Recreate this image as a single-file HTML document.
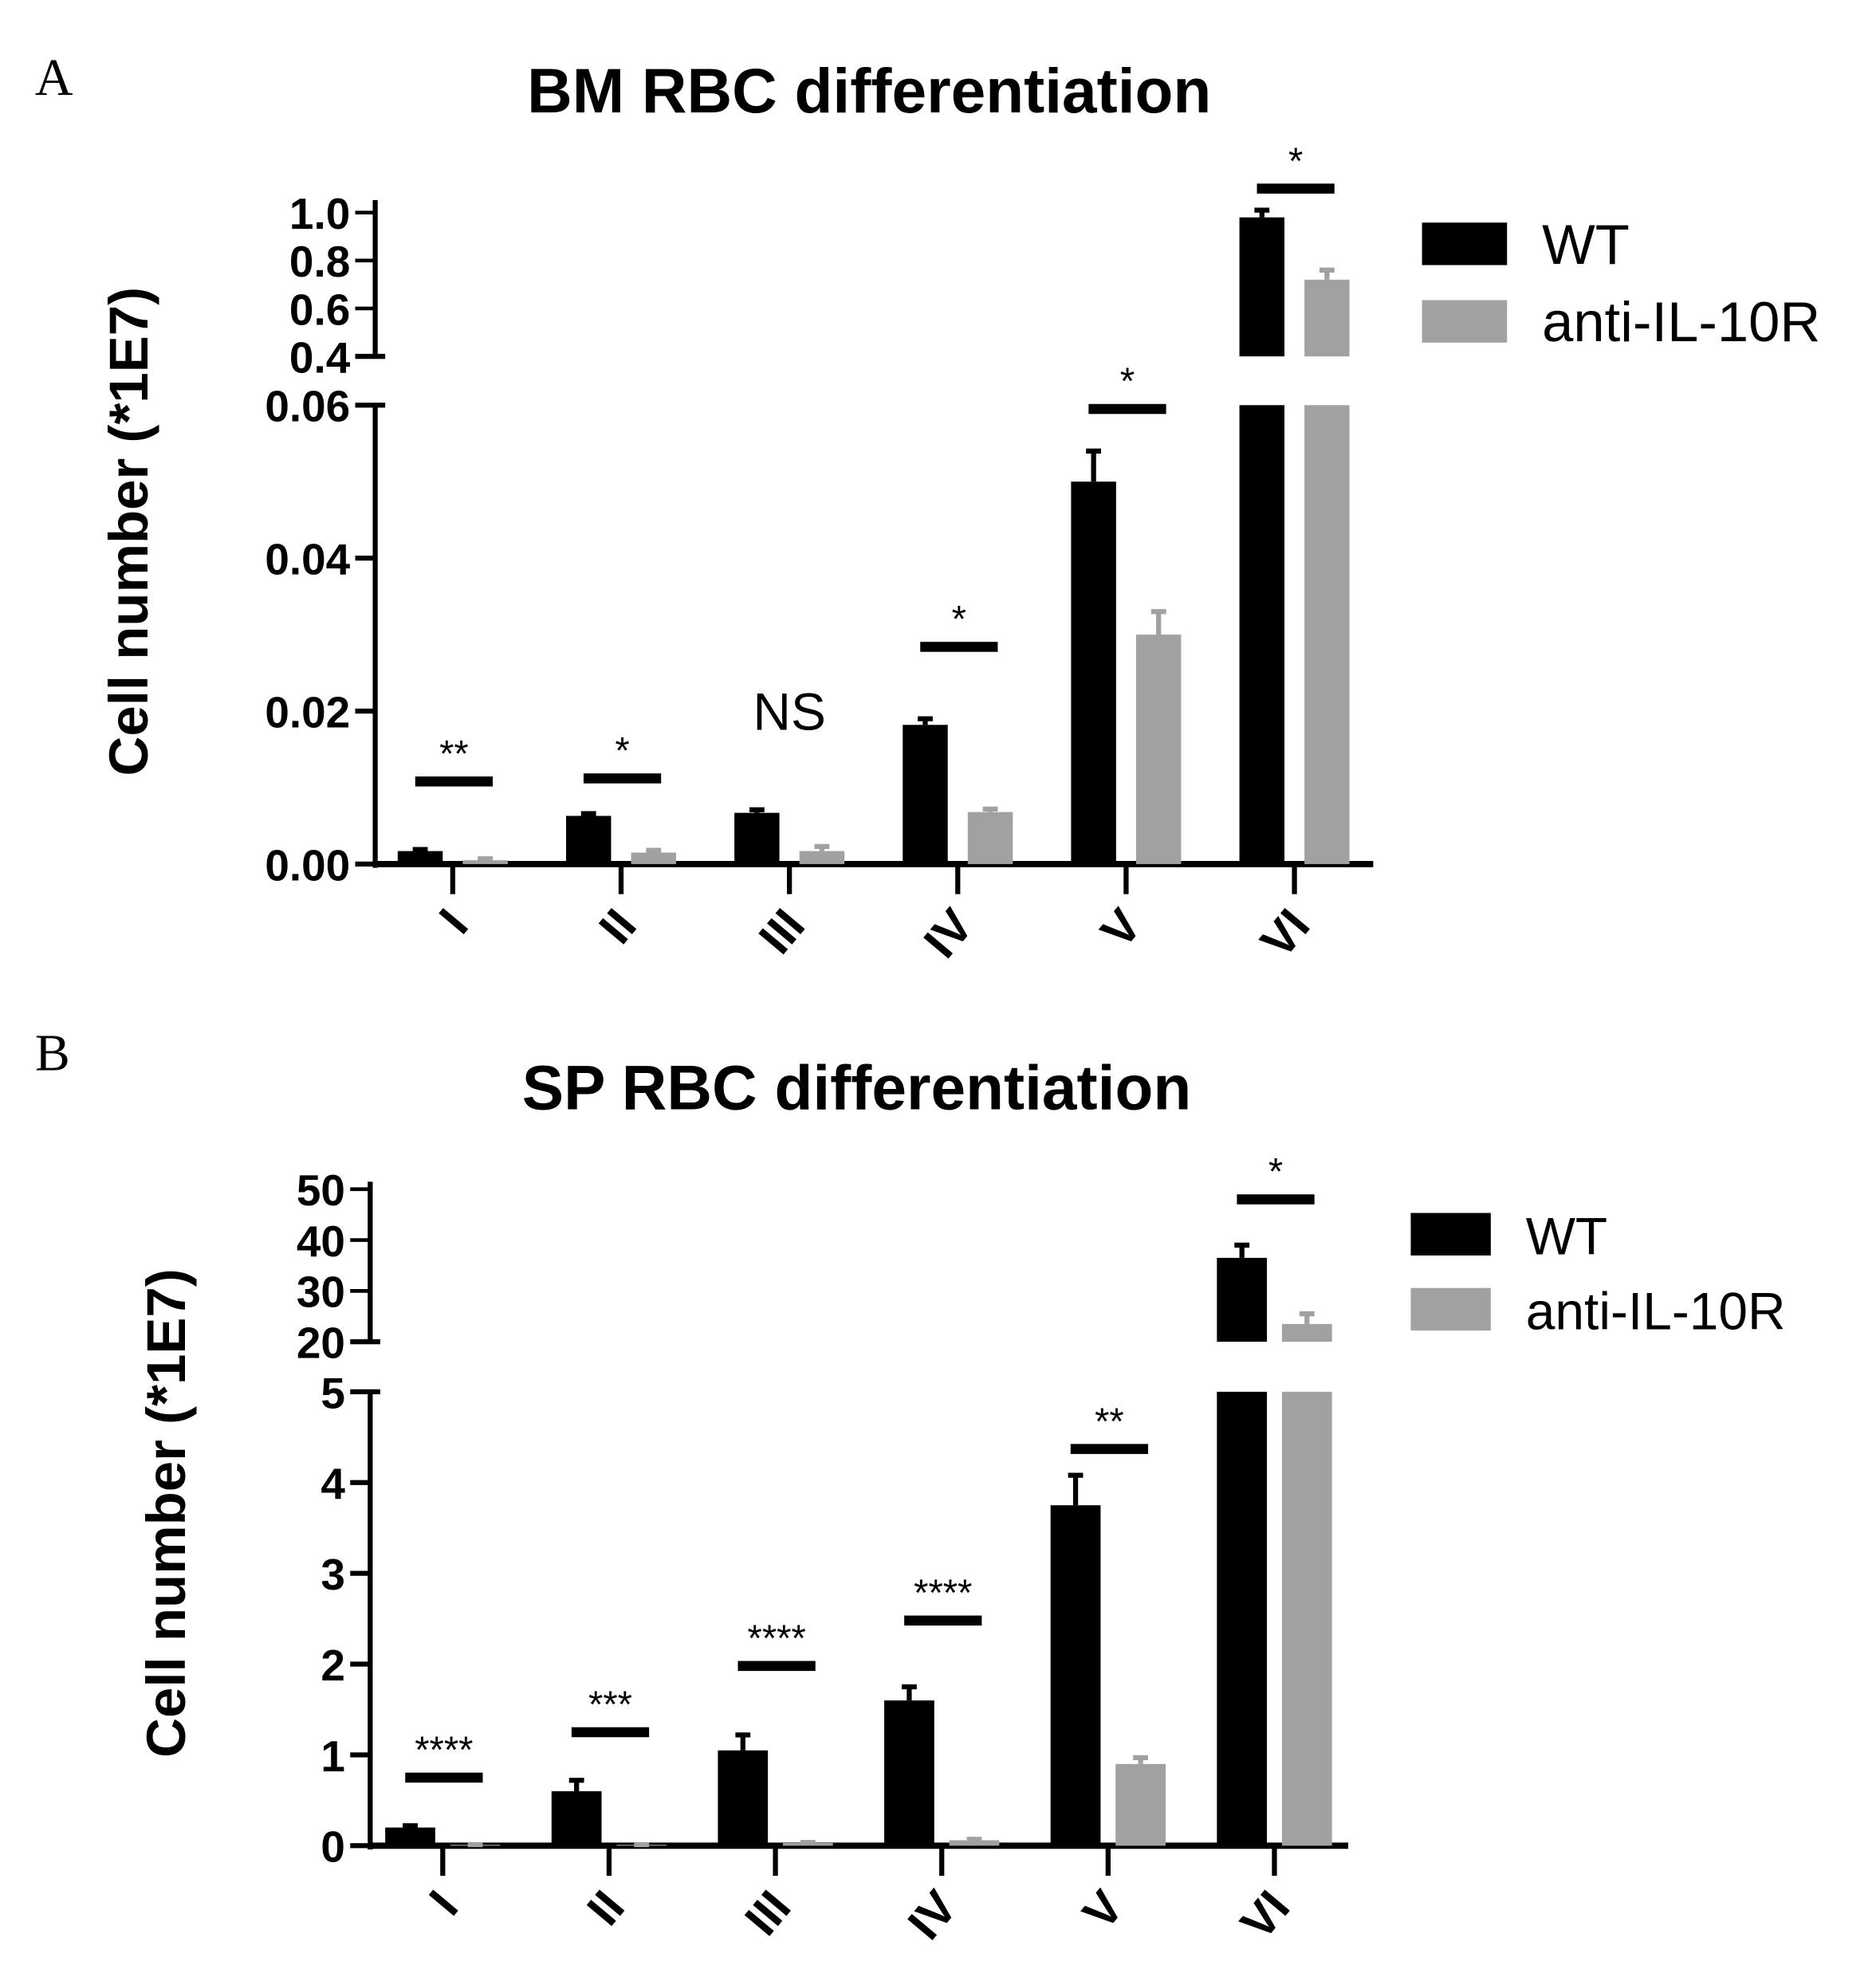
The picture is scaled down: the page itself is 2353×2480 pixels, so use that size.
<!DOCTYPE html>
<html><head><meta charset="utf-8"><style>
html,body{margin:0;padding:0;background:#fff}
svg{display:block}
text{font-family:"Liberation Sans",Arial,sans-serif}
</style></head><body>
<svg id="fig" width="2353" height="2480" viewBox="0 0 1500 1581" preserveAspectRatio="none" xmlns="http://www.w3.org/2000/svg"></svg>
<script>
const categories = ["I","II","III","IV","V","VI"];
// Panel A (BM)
const aWT = [0.0017, 0.0063, 0.0067, 0.0182, 0.050, 0.98];
const aWTErr = [0.0019, 0.0066, 0.0071, 0.0190, 0.054, 1.01];
const aAnti = [0.0005, 0.0015, 0.0017, 0.0068, 0.030, 0.72];
const aAntiErr = [0.0007, 0.0018, 0.0023, 0.0072, 0.033, 0.76];
const aSig = ["**","*","NS","*","*","*"];
const aSigLevel = [0.0108, 0.0112, null, 0.0284, 0.0595, 1.10];
const aLowTicks = ["0.00","0.02","0.04","0.06"];
const aHighTicks = ["0.4","0.6","0.8","1.0"];
// Panel B (SP)
const bWT = [0.2, 0.6, 1.05, 1.6, 3.75, 36.5];
const bWTErr = [0.22, 0.72, 1.22, 1.75, 4.08, 39];
const bAnti = [0.01, 0.01, 0.03, 0.06, 0.9, 23.5];
const bAntiErr = [0.012, 0.012, 0.035, 0.07, 0.97, 25.5];
const bSig = ["****","***","****","****","**","*"];
const bSigLevel = [0.75, 1.25, 1.98, 2.48, 4.37, 48];
const bLowTicks = ["0","1","2","3","4","5"];
const bHighTicks = ["20","30","40","50"];

const NS="http://www.w3.org/2000/svg";
const svg=document.getElementById('fig');
function el(tag,attrs,parent){const e=document.createElementNS(NS,tag);for(const k in attrs)e.setAttribute(k,attrs[k]);(parent||svg).appendChild(e);return e;}
function txt(s,attrs,parent){const t=el('text',attrs,parent);t.textContent=s;return t;}

function panel(cfg){
  const g=el('g',{});
  
  
  const y=v=>{
    if(v<=cfg.lowMax) return cfg.y0+(cfg.lowTop-cfg.y0)*(v/cfg.lowMax);
    return cfg.hiBot+(cfg.hiTop-cfg.hiBot)*((v-cfg.hiMin)/(cfg.hiMax-cfg.hiMin));
  };
  const x=i=>cfg.xStart+i*cfg.xStep;
  const L=txt(cfg.letter,{x:cfg.letterX,y:cfg.letterY,'font-size':42,style:'font-family:"Liberation Serif",serif'},g);
  
  const T=txt(cfg.title,{x:cfg.titleX,y:cfg.titleY,'font-size':50,'font-weight':'bold','text-anchor':'middle'},g);
  
  const YT=txt("Cell number (*1E7)",{x:0,y:0,'font-size':44,'font-weight':'bold','text-anchor':'middle',transform:`translate(${cfg.ytX},${cfg.ytY}) rotate(-90)`},g);
  
  const ax=cfg.ax;
  const a1=el('line',{x1:ax,x2:ax,y1:cfg.y0+3,y2:y(cfg.lowMax),stroke:'#000','stroke-width':4},g);
  
  const a2=el('line',{x1:ax,x2:ax,y1:y(cfg.hiMin),y2:cfg.axTop,stroke:'#000','stroke-width':4},g);
  
  const xa=el('line',{x1:ax-2,x2:cfg.xEnd,y1:cfg.y0,y2:cfg.y0,stroke:'#000','stroke-width':5},g);
  
  cfg.lowTicks.forEach((s,i)=>{
    const v=parseFloat(s),yy=y(v);
    const top=i===cfg.lowTicks.length-1;
    const t=el('line',{x1:ax-16,x2:top?ax+8:ax,y1:yy,y2:yy,stroke:'#000','stroke-width':4},g);
    
    const l=txt(s,{x:ax-20,y:yy+13,'font-size':cfg.tickFont,'font-weight':'bold','text-anchor':'end'},g);
    
  });
  cfg.highTicks.forEach((s,i)=>{
    const v=parseFloat(s),yy=y(v);
    const t=el('line',{x1:ax-16,x2:i===0?ax+8:ax,y1:yy,y2:yy,stroke:'#000','stroke-width':i===0?4:3},g);
    
    const l=txt(s,{x:ax-20,y:yy+13,'font-size':cfg.tickFont,'font-weight':'bold','text-anchor':'end'},g);
    
  });
  function bar(cx,v,err,color,name){
    const w=cfg.barW;
    if(v<=cfg.lowMax){
      const r=el('rect',{x:cx-w/2,y:y(v),width:w,height:cfg.y0-y(v),fill:color},g);
      
    } else {
      const r=el('rect',{x:cx-w/2,y:y(cfg.lowMax),width:w,height:cfg.y0-y(cfg.lowMax),fill:color},g);
      
      const r2=el('rect',{x:cx-w/2,y:y(v),width:w,height:y(cfg.hiMin)-y(v),fill:color},g);
      
    }
    const e1=el('line',{x1:cx,x2:cx,y1:y(v),y2:y(err),stroke:color,'stroke-width':4},g);
    
    const e2=el('line',{x1:cx-6,x2:cx+6,y1:y(err),y2:y(err),stroke:color,'stroke-width':4},g);
    
  }
  categories.forEach((c,i)=>{
    const cx=x(i);
    bar(cx-cfg.off,cfg.wt[i],cfg.wtErr[i],'#000','bar-wt-'+c);
    bar(cx+cfg.off,cfg.anti[i],cfg.antiErr[i],'#a1a1a3','bar-anti-'+c);
    const tk=el('line',{x1:cx,x2:cx,y1:cfg.y0,y2:cfg.y0+24,stroke:'#000','stroke-width':4},g);
    
    const lb=txt(c,{x:0,y:0,'font-size':38,'font-weight':'bold','text-anchor':'end',transform:`translate(${cx+14},${cfg.y0+50}) rotate(-50)`},g);
    
    const s=cfg.sig[i];
    if(cfg.sigLevel[i]===null){
      const t=txt(s,{x:cx,y:y(0.02)+15,'font-size':42,'text-anchor':'middle'},g);
      
    } else {
      const ly=y(cfg.sigLevel[i]);
      const sl=el('rect',{x:cx-30,y:ly-4,width:62,height:8,fill:'#000'},g);
      
      const t=txt(s,{x:cx+1,y:ly-12,'font-size':30,'text-anchor':'middle'},g);
      
    }
  });
  const lg=el('g',{},g);
  
  const s1=el('rect',{x:cfg.legX,y:cfg.legY,width:cfg.legW,height:34,fill:'#000'},lg);
  
  const t1=txt("WT",{x:cfg.legX+cfg.legW+28,y:cfg.legY+33,'font-size':cfg.legFont},lg);
  
  const s2=el('rect',{x:cfg.legX,y:cfg.legY+cfg.legGap,width:cfg.legW,height:34,fill:'#a1a1a3'},lg);
  
  const t2=txt("anti-IL-10R",{x:cfg.legX+cfg.legW+28,y:cfg.legY+cfg.legGap+33,'font-size':cfg.legFont},lg);
  
}

panel({name:'panel-a-chart',letter:'A',letterX:28,letterY:76,title:'BM RBC differentiation',titleX:695,titleY:90,
  ytX:118,ytY:425,ax:300,y0:691,lowMax:0.06,lowTop:324,hiMin:0.4,hiMax:1.0,hiBot:285,hiTop:170,axTop:160,
  xStart:362,xStep:134.6,xEnd:1098,off:26,barW:36,tickFont:35,
  wt:aWT,wtErr:aWTErr,anti:aAnti,antiErr:aAntiErr,sig:aSig,sigLevel:aSigLevel,lowTicks:aLowTicks,highTicks:aHighTicks,
  legX:1137,legY:178,legW:68,legGap:62,legFont:45});
panel({name:'panel-b-chart',letter:'B',letterX:28,letterY:856,title:'SP RBC differentiation',titleX:685,titleY:887,
  ytX:148,ytY:1210,ax:296,y0:1476,lowMax:5,lowTop:1113,hiMin:20,hiMax:50,hiBot:1073,hiTop:951,axTop:945,
  xStart:354,xStep:133,xEnd:1078,off:26,barW:40,tickFont:35,
  wt:bWT,wtErr:bWTErr,anti:bAnti,antiErr:bAntiErr,sig:bSig,sigLevel:bSigLevel,lowTicks:bLowTicks,highTicks:bHighTicks,
  legX:1128,legY:970,legW:64,legGap:60,legFont:42});
</script>
</body></html>
